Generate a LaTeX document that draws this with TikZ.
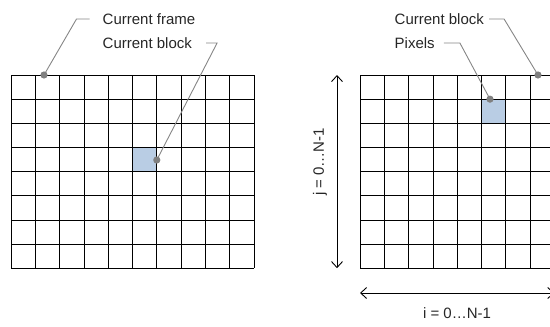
\documentclass[tikz,border=0pt]{standalone}
\usepackage{fontspec}
\setmainfont{Liberation Sans}
\usetikzlibrary{arrows.meta}

\begin{document}
\begin{tikzpicture}[x=1pt, y=-1pt,
    gridline/.style={draw=black, line width=0.75pt},
    leader/.style={draw=gray!95, line width=0.9pt},
    label/.style={inner sep=0pt, font=\fontsize{15}{18}\selectfont, text=black!85},
    dimarrow/.style={draw=black, line width=0.9pt, {Straight Barb[length=6pt,width=11pt]}-{Straight Barb[length=6pt,width=11pt]}}]

    % 设置颜色
    \definecolor{BlockFill}{RGB}{185, 205, 228}
    \definecolor{DotGray}{RGB}{128, 128, 128}

    % 画布范围
    \clip (0,0) rectangle (550,327);

    % 当前块（填充）
    \fill[BlockFill] (132.5,147.45) rectangle (156.8,171.6);
    \fill[BlockFill] (481.5,99.15) rectangle (505.8,123.3);

    % 左侧网格：当前帧
    \foreach \i in {0,...,10} \draw[gridline] ({11+24.3*\i},75) -- ({11+24.3*\i},268.2);
    \foreach \j in {0,...,8} \draw[gridline] (11,{75+24.15*\j}) -- (254,{75+24.15*\j});

    % 右侧网格：当前块的像素
    \foreach \i in {0,...,8} \draw[gridline] ({360+24.3*\i},75) -- ({360+24.3*\i},268.2);
    \foreach \j in {0,...,8} \draw[gridline] (360,{75+24.15*\j}) -- (554.4,{75+24.15*\j});

    % 引线端点
    \coordinate (framedot) at (44,75);
    \coordinate (blockdot) at (156.8,160);
    \coordinate (rframedot) at (538,75);
    \coordinate (pixeldot) at (490,99.15);

    % 标签
    \node[label, anchor=west] (frametxt) at (102.5,19) {Current frame};
    \node[label, anchor=west] (blocktxt) at (102.5,43) {Current block};
    \node[label, anchor=west] (rblocktxt) at (394.5,19) {Current block};
    \node[label, anchor=west] (pixeltxt) at (394.5,43) {Pixels};

    % 引线
    \draw[leader] ([xshift=-13pt]frametxt.west) -- ++(-13,0) -- (framedot);
    \draw[leader] ([xshift=14pt]blocktxt.east) -- ++(11,0) -- (blockdot);
    \draw[leader] ([xshift=5pt]rblocktxt.east) -- ++(15,0) -- (rframedot);
    \draw[leader] ([xshift=9pt]pixeltxt.east) -- ++(16,0) -- (pixeldot);
    \foreach \p in {framedot,blockdot,rframedot,pixeldot}
        \fill[DotGray] (\p) circle (3.6pt);

    % 尺寸箭头
    \coordinate (jtop) at (337,75);
    \coordinate (jbot) at (337,268.2);
    \coordinate (ileft) at (360,293);
    \coordinate (iright) at (554.4,293);
    \draw[dimarrow] (jtop) -- (jbot);
    \draw[dimarrow] (ileft) -- (iright);
    \node[label, rotate=90] (jtxt) at (320,162) {j = 0…N-1};
    \node[label] (itxt) at (457,313) {i = 0…N-1};

\end{tikzpicture}
\end{document}
